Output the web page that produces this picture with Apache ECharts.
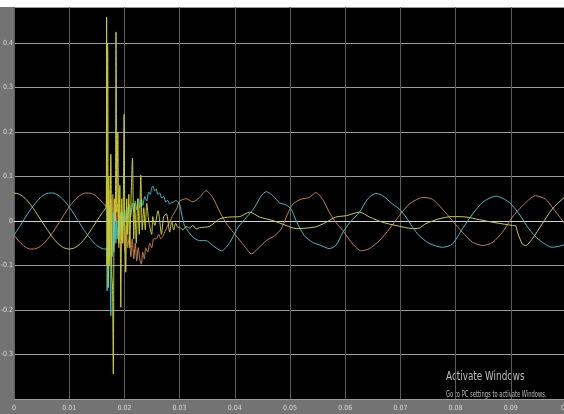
<!DOCTYPE html>
<html>
<head>
<meta charset="utf-8">
<script src="https://cdn.jsdelivr.net/npm/echarts@6/dist/echarts.min.js"></script>
<style>
  html, body { margin: 0; padding: 0; background: #737373; }
  #chart { width: 564px; height: 414px; }
</style>
</head>
<body>
<div id="chart"></div>
<script>
// Three phase currents [time (s), value]
const phaseA = [ // yellow
  [0,0.063],[0.001,0.060],[0.002,0.051],[0.003,0.037],[0.004,0.019],[0.005,0],[0.006,-0.019],[0.007,-0.037],
  [0.008,-0.051],[0.009,-0.060],[0.010,-0.063],[0.011,-0.060],[0.012,-0.051],[0.013,-0.037],[0.014,-0.019],
  [0.015,0],[0.016,0.019],[0.01664,0.03],
  [0.01673,0.05],[0.01678,0.458],[0.01685,-0.10],[0.01693,0.40],[0.01700,0.38],[0.01707,-0.15],[0.01718,0.10],
  [0.01736,-0.10],[0.01754,0.15],[0.01772,-0.12],[0.01785,-0.146],[0.01799,-0.344],[0.01817,0.05],[0.01835,0.0],
  [0.01848,0.425],[0.01863,0.02],[0.01881,0.20],[0.01899,-0.05],[0.01917,0.08],[0.01935,-0.194],[0.01953,0.05],
  [0.01971,-0.05],[0.01995,0.24],[0.02007,0.0],[0.02025,-0.115],[0.02043,0.05],[0.02061,-0.03],[0.02080,0.06],
  [0.02098,-0.06],[0.02116,0.03],[0.02146,0.141],[0.02170,-0.04],[0.02188,0.04],[0.02215,-0.05],[0.02242,0.05],
  [0.02269,-0.03],[0.02297,0.103],[0.02324,-0.02],[0.02351,0.03],[0.02378,-0.02],[0.02405,0.04],[0.02441,0.0],
  [0.02495,-0.03],[0.02514,0.01],[0.02550,-0.01],[0.02609,0.023],[0.02640,0.0],[0.02671,-0.03],[0.02712,0.01],
  [0.02761,0.016],[0.02821,-0.025],[0.02857,0.0],[0.02893,-0.02],[0.02929,-0.005],[0.02966,-0.014],[0.0300,-0.014],
  [0.0306,-0.02],[0.0312,-0.012],[0.0318,-0.016],[0.0324,-0.01],[0.0330,-0.018],[0.0336,-0.015],[0.0354,-0.012],
  [0.0373,0.005],[0.0391,0.009],[0.0409,0.01],[0.0427,0.02],[0.0445,0.009],[0.0469,0.001],[0.0493,-0.01],
  [0.0511,-0.017],[0.0529,-0.016],[0.0547,-0.013],[0.0565,-0.003],[0.0583,0.009],[0.0602,0.012],[0.0626,0.02],
  [0.0644,0.009],[0.0668,-0.003],[0.0692,-0.01],[0.0722,-0.017],[0.0734,-0.016],[0.0746,-0.006],[0.0770,0.005],
  [0.0794,0.01],[0.0819,0.009],[0.0843,0.003],[0.0873,-0.004],[0.0903,-0.01],[0.0909,-0.011],[0.0912,-0.025],
  [0.0921,-0.052],[0.0927,-0.055],[0.0939,-0.04],[0.0957,-0.006],[0.0975,0.027],[0.0993,0.049],[0.1,0.056]
];

const phaseB = [ // cyan
  [0,-0.0315],[0.001,-0.013],[0.002,0.007],[0.003,0.026],[0.004,0.042],[0.005,0.055],[0.006,0.062],[0.007,0.063],
  [0.008,0.058],[0.009,0.047],[0.010,0.032],[0.011,0.013],[0.012,-0.007],[0.013,-0.026],[0.014,-0.042],
  [0.015,-0.055],[0.016,-0.062],[0.01664,-0.063],
  [0.01678,-0.06],[0.01687,-0.157],[0.01700,0.02],[0.01712,-0.09],[0.01727,0.03],[0.01741,-0.10],[0.01754,-0.213],
  [0.01769,-0.02],[0.01781,-0.08],[0.01796,0.02],[0.01808,-0.06],[0.01826,0.01],[0.01845,-0.05],[0.01863,0.0],
  [0.01881,-0.04],[0.01899,0.01],[0.01917,-0.03],[0.01935,0.015],[0.01953,-0.02],[0.01971,0.02],[0.01989,-0.01],
  [0.02007,0.025],[0.02025,0.0],[0.02043,0.03],[0.02061,0.005],[0.02089,0.035],[0.02116,0.01],[0.02143,0.04],
  [0.02170,0.02],[0.02197,0.045],[0.02224,0.025],[0.02251,0.05],[0.02278,0.03],[0.02306,0.05],[0.02333,0.035],
  [0.02369,0.055],[0.02405,0.045],[0.02441,0.065],[0.02468,0.06],[0.02495,0.075],[0.02519,0.078],[0.02550,0.068],
  [0.02577,0.072],[0.02604,0.06],[0.02640,0.063],[0.02676,0.052],[0.02712,0.055],[0.02749,0.043],[0.02785,0.046],
  [0.02821,0.038],[0.02857,0.041],[0.02893,0.043],[0.02929,0.046],[0.02966,0.044],[0.0300,0.038],
  [0.0309,-0.01],[0.0324,-0.036],[0.0336,-0.044],[0.0348,-0.044],[0.0360,-0.055],[0.0376,-0.067],[0.0391,-0.048],
  [0.0406,-0.014],[0.0421,0.008],[0.0436,0.031],[0.0448,0.057],[0.0457,0.066],[0.0469,0.057],[0.0481,0.041],
  [0.0493,0.036],[0.0502,0.027],[0.0511,0.001],[0.0526,-0.033],[0.0541,-0.048],[0.0556,-0.055],[0.0571,-0.062],
  [0.0583,-0.055],[0.0596,-0.025],[0.0608,-0.004],[0.0626,0.02],[0.0641,0.05],[0.0656,0.062],[0.0668,0.057],
  [0.0686,0.038],[0.0698,0.027],[0.0710,0.009],[0.0722,-0.014],[0.0734,-0.033],[0.0752,-0.05],[0.0776,-0.059],
  [0.0794,-0.052],[0.0812,-0.018],[0.0831,0.016],[0.0849,0.042],[0.0873,0.056],[0.0897,0.042],[0.0915,0.016],
  [0.0933,-0.018],[0.0951,-0.042],[0.0975,-0.059],[0.0993,-0.055],[0.1,-0.05]
];

const phaseC = [ // orange
  [0,-0.0315],[0.001,-0.047],[0.002,-0.058],[0.003,-0.063],[0.004,-0.062],[0.005,-0.055],[0.006,-0.042],
  [0.007,-0.026],[0.008,-0.007],[0.009,0.013],[0.010,0.032],[0.011,0.047],[0.012,0.058],[0.013,0.063],
  [0.014,0.062],[0.015,0.055],[0.016,0.042],[0.01664,0.033],
  [0.01682,0.09],[0.01700,-0.02],[0.01718,0.07],[0.01736,-0.08],[0.01754,0.05],[0.01772,-0.06],[0.01790,0.06],
  [0.01808,-0.07],[0.01826,0.03],[0.01845,-0.04],[0.01872,0.04],[0.01899,-0.06],[0.01926,0.02],[0.01953,-0.05],
  [0.01980,0.01],[0.02007,-0.07],[0.02034,-0.01],[0.02061,-0.06],[0.02089,-0.03],[0.02116,-0.08],[0.02143,-0.04],
  [0.02170,-0.085],[0.02197,-0.05],[0.02224,-0.09],[0.02251,-0.06],[0.02278,-0.085],[0.02306,-0.097],
  [0.02333,-0.07],[0.02360,-0.085],[0.02387,-0.06],[0.02423,-0.07],[0.02459,-0.05],[0.02495,-0.06],
  [0.02532,-0.04],[0.02580,-0.04],[0.02622,-0.03],[0.02658,-0.04],[0.02694,-0.035],[0.02749,-0.02],
  [0.02785,-0.01],[0.02821,-0.002],[0.02866,0.01],[0.02911,0.02],[0.02957,0.03],[0.0300,0.045],
  [0.0312,0.05],[0.0324,0.043],[0.0336,0.053],[0.0348,0.068],[0.0360,0.053],[0.0373,0.02],[0.0385,-0.006],
  [0.0397,-0.025],[0.0412,-0.048],[0.0421,-0.062],[0.0430,-0.074],[0.0442,-0.062],[0.0457,-0.044],
  [0.0472,-0.033],[0.0484,-0.018],[0.0493,0.008],[0.0505,0.038],[0.0520,0.049],[0.0535,0.053],[0.0547,0.064],
  [0.0559,0.049],[0.0571,0.02],[0.0583,-0.003],[0.0596,-0.022],[0.0614,-0.052],[0.0629,-0.067],[0.0644,-0.062],
  [0.0662,-0.044],[0.0680,-0.018],[0.0698,0.012],[0.0716,0.038],[0.0734,0.051],[0.0743,0.053],[0.0758,0.049],
  [0.0776,0.027],[0.0794,0.001],[0.0812,-0.025],[0.0831,-0.048],[0.0849,-0.055],[0.0867,-0.048],[0.0885,-0.025],
  [0.0903,0.009],[0.0921,0.034],[0.0945,0.057],[0.0963,0.049],[0.0975,0.031],[0.0993,0.002],[0.1,-0.01]
];

const timeRange = [0, 0.1, 0.01];       // min, max, step
const valueRange = [-0.4, 0.481, 0.1];

const chart = echarts.init(document.getElementById('chart'), null, { renderer: 'canvas' });

const narrowFont = '"Liberation Sans Narrow", "DejaVu Sans Condensed", "Liberation Sans", sans-serif';
const labelFont = { color: '#d8d8d8', fontSize: 7, fontFamily: narrowFont };

function trace(data, color) {
  return {
    type: 'line',
    data: data,
    showSymbol: false,
    smooth: 0.25,
    clip: true,
    lineStyle: { color: color, width: 1 },
    emphasis: { disabled: true }
  };
}

chart.setOption({
  animation: false,
  backgroundColor: '#737373',
  grid: {
    left: 14, top: 7, width: 552, height: 392,
    containLabel: false, outerBoundsMode: 'none',
    backgroundColor: '#000', show: true, borderWidth: 0
  },
  xAxis: {
    type: 'value',
    min: timeRange[0], max: timeRange[1], interval: timeRange[2],
    axisLine: { show: true, lineStyle: { color: '#d0d0d0', width: 1 } },
    axisTick: { show: false },
    axisLabel: Object.assign({ margin: 6 }, labelFont),
    splitLine: { show: true, lineStyle: { color: '#5c5c5c', width: 1 } }
  },
  yAxis: {
    type: 'value',
    min: valueRange[0], max: valueRange[1], interval: valueRange[2],
    axisLine: { show: false },
    axisTick: { show: false },
    axisLabel: Object.assign({ margin: 1, showMinLabel: false, showMaxLabel: false }, labelFont),
    splitLine: { show: true, lineStyle: { color: '#9a9a9a', width: 1 } }
  },
  series: [
    trace(phaseC, '#c0804e'),
    trace(phaseB, '#33bfca'),
    trace(phaseA, '#cccc30')
  ],
  graphic: [
    { type: 'rect', left: 0, top: 0, shape: { width: 564, height: 7 }, style: { fill: '#ffffff' }, silent: true },
    { type: 'text', x: 446, y: 371, scaleX: 0.82,
      style: { text: 'Activate Windows', fill: 'rgba(205,205,205,0.9)', fontSize: 12, fontFamily: narrowFont } },
    { type: 'text', x: 446, y: 391, scaleX: 0.72,
      style: { text: 'Go to PC settings to activate Windows.', fill: 'rgba(205,205,205,0.9)', fontSize: 8, fontFamily: narrowFont } }
  ]
});
</script>
</body>
</html>
